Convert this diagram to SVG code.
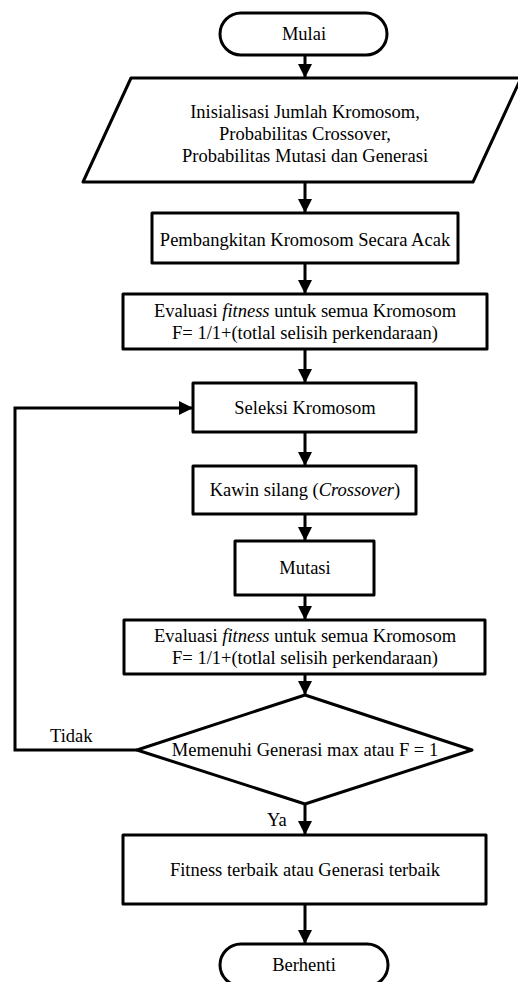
<svg xmlns="http://www.w3.org/2000/svg" width="518" height="982" viewBox="0 0 518 982">
<defs>
<marker id="ah" viewBox="0 0 14 14" refX="14" refY="7" markerWidth="14" markerHeight="14" markerUnits="userSpaceOnUse" orient="auto">
<path d="M0,0 L14,7 L0,14 Z" fill="#000"/>
</marker>
<style>
.s{fill:#fff;stroke:#000;stroke-width:3;stroke-linejoin:round}
.c{fill:none;stroke:#000;stroke-width:3;marker-end:url(#ah)}
text{font-family:'Liberation Serif','Times New Roman',Tinos,'DejaVu Serif',serif;font-size:18.5px;fill:#000}
.t{text-anchor:middle}
</style>
</defs>
<rect width="518" height="982" fill="#fff"/>
<g id="connectors">
<line class="c" x1="305" y1="55" x2="305" y2="78"/>
<line class="c" x1="305" y1="182" x2="305" y2="213"/>
<line class="c" x1="305" y1="263" x2="305" y2="294"/>
<line class="c" x1="305" y1="349" x2="305" y2="383"/>
<line class="c" x1="305" y1="432" x2="305" y2="466"/>
<line class="c" x1="305" y1="514" x2="305" y2="541"/>
<line class="c" x1="305" y1="595" x2="305" y2="620"/>
<line class="c" x1="305" y1="674" x2="305" y2="695"/>
<line class="c" x1="305" y1="804" x2="305" y2="835"/>
<line class="c" x1="305" y1="904" x2="305" y2="944"/>
<polyline class="c" points="137,750 15,750 15,408 193,408"/>
<text x="50" y="742">Tidak</text>
<text x="267" y="826">Ya</text>
</g>
<g id="mulai">
<rect class="s" x="220" y="13" width="167" height="42" rx="21" ry="21"/>
<text class="t" x="304" y="40">Mulai</text>
</g>
<g id="inisialisasi">
<polygon class="s" points="131,78 521,78 473,182 83,182"/>
<text class="t" x="305" y="118">Inisialisasi Jumlah Kromosom,</text>
<text class="t" x="305" y="140">Probabilitas Crossover,</text>
<text class="t" x="305" y="162">Probabilitas Mutasi dan Generasi</text>
</g>
<g id="pembangkitan">
<rect class="s" x="152" y="213" width="306" height="50"/>
<text class="t" x="305" y="246">Pembangkitan Kromosom Secara Acak</text>
</g>
<g id="evaluasi1">
<rect class="s" x="123" y="294" width="364" height="55"/>
<text class="t" x="305" y="317">Evaluasi <tspan font-style="italic">fitness</tspan> untuk semua Kromosom</text>
<text class="t" x="305" y="339">F= 1/1+(totlal selisih perkendaraan)</text>
</g>
<g id="seleksi">
<rect class="s" x="193" y="383" width="223" height="49"/>
<text class="t" x="305" y="414">Seleksi Kromosom</text>
</g>
<g id="kawin">
<rect class="s" x="193" y="466" width="223" height="48"/>
<text class="t" x="305" y="496">Kawin silang (<tspan font-style="italic">Crossover</tspan>)</text>
</g>
<g id="mutasi">
<rect class="s" x="235" y="541" width="139" height="54"/>
<text class="t" x="305" y="574">Mutasi</text>
</g>
<g id="evaluasi2">
<rect class="s" x="124" y="620" width="361" height="54"/>
<text class="t" x="305" y="642">Evaluasi <tspan font-style="italic">fitness</tspan> untuk semua Kromosom</text>
<text class="t" x="305" y="664">F= 1/1+(totlal selisih perkendaraan)</text>
</g>
<g id="keputusan">
<polygon class="s" points="305,695 472,750 305,804 137,750"/>
<text class="t" x="305" y="756">Memenuhi Generasi max atau F = 1</text>
</g>
<g id="hasil">
<rect class="s" x="123" y="835" width="363" height="69"/>
<text class="t" x="305" y="876">Fitness terbaik atau Generasi terbaik</text>
</g>
<g id="berhenti">
<rect class="s" x="220" y="944" width="168" height="42" rx="21" ry="21"/>
<text class="t" x="304" y="971">Berhenti</text>
</g>
</svg>
